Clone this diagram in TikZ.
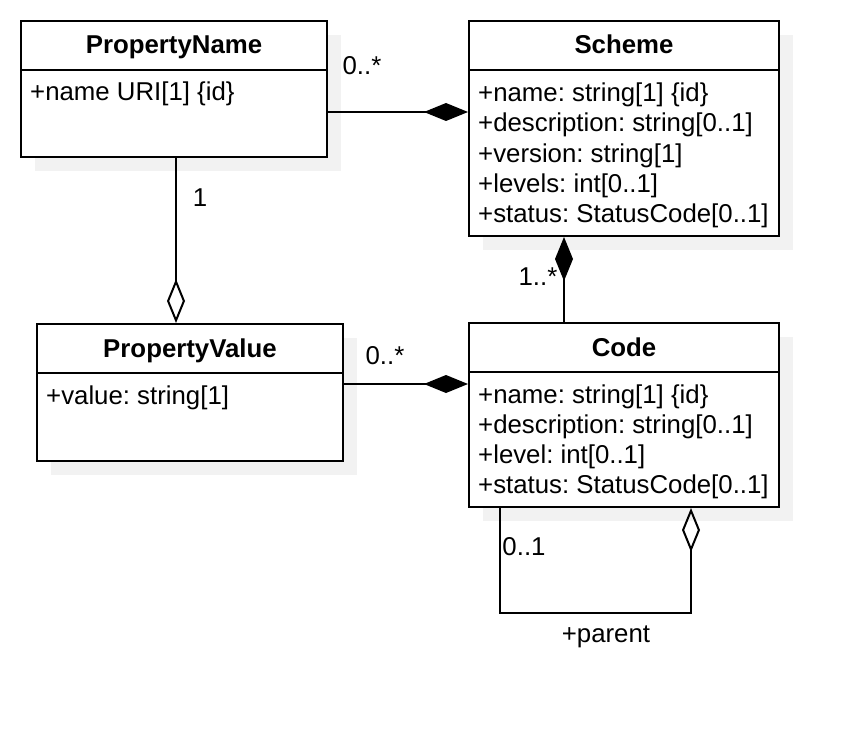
\documentclass[tikz,border=0pt]{standalone}
\usepackage{fontspec}
\setmainfont{Liberation Sans}
\usetikzlibrary{arrows.meta,shadows}
\frenchspacing

\begin{document}
\begin{tikzpicture}[
  x=1pt, y=-1pt,
  classbox/.style={rectangle, draw, fill=white, line width=2pt, anchor=north west, inner sep=0pt,
    general shadow={fill=black!5, shadow xshift=14pt, shadow yshift=-14pt}},
  classname/.style={anchor=base, font=\fontsize{25.8}{30}\selectfont\bfseries},
  attrs/.style={anchor=base west, align=left, inner sep=0pt, font=\fontsize{25.8}{30}\selectfont},
  mult/.style={inner sep=0pt, font=\fontsize{25.8}{30}\selectfont},
  conn/.style={line width=2pt},
  composite/.style={conn, -{Diamond[length=44pt,width=18pt,fill=black]}},
  shared/.style={conn, -{Diamond[open,length=44pt,width=18pt]}}
]
\useasboundingbox (0,0) rectangle (858,730);

% classes
\node[classbox, minimum width=306pt, minimum height=136pt] (pname) at (20,20) {};
\node[classbox, minimum width=310pt, minimum height=215pt] (scheme) at (468,20) {};
\node[classbox, minimum width=306pt, minimum height=137pt] (pvalue) at (36,323) {};
\node[classbox, minimum width=310pt, minimum height=184pt] (code) at (468,322) {};

\node[classname] (pnametitle) at ([yshift=-34pt]pname.north) {PropertyName};
\node[classname] (schemetitle) at ([yshift=-34pt]scheme.north) {Scheme};
\node[classname] (pvaluetitle) at ([yshift=-34pt]pvalue.north) {PropertyValue};
\node[classname] (codetitle) at ([yshift=-34pt]code.north) {Code};

\draw[conn] ([yshift=-50pt]pname.north west) -- ([yshift=-50pt]pname.north east);
\draw[conn] ([yshift=-50pt]scheme.north west) -- ([yshift=-50pt]scheme.north east);
\draw[conn] ([yshift=-50pt]pvalue.north west) -- ([yshift=-50pt]pvalue.north east);
\draw[conn] ([yshift=-50pt]code.north west) -- ([yshift=-50pt]code.north east);

% attribute lists (anchored at the baseline of their last line)
\node[attrs] (pnameattrs) at ([xshift=10pt,yshift=-81pt]pname.north west) {+name URI[1] \{id\}};
\node[attrs] (schemeattrs) at ([xshift=10pt,yshift=-202pt]scheme.north west)
  {+name: string[1] \{id\}\\+description: string[0..1]\\+version: string[1]\\+levels: int[0..1]\\+status: StatusCode[0..1]};
\node[attrs] (pvalueattrs) at ([xshift=10pt,yshift=-81pt]pvalue.north west) {+value: string[1]};
\node[attrs] (codeattrs) at ([xshift=10pt,yshift=-171pt]code.north west)
  {+name: string[1] \{id\}\\+description: string[0..1]\\+level: int[0..1]\\+status: StatusCode[0..1]};

% associations
\coordinate (pnameout) at ([yshift=-92pt]pname.north east);
\coordinate (pnamedown) at ([xshift=156pt]pname.south west);
\coordinate (pvalueout) at ([yshift=-61pt]pvalue.north east);
\coordinate (codeup) at ([xshift=96pt]code.north west);
\coordinate (childend) at ([xshift=32pt]code.south west);
\coordinate (parentend) at ([xshift=223pt]code.south west);

\draw[composite] (pnameout) -- (pnameout -| scheme.west);
\draw[shared] (pnamedown) -- (pnamedown |- pvalue.north);
\draw[composite] (codeup) -- (codeup |- scheme.south);
\draw[composite] (pvalueout) -- (pvalueout -| code.west);
\draw[shared] (childend) -- ++(0,105) -| (parentend);

\node[mult] (m1) at (362,66) {0..*};
\node[mult] (m2) at (200,198) {1};
\node[mult] (m3) at (538,277) {1..*};
\node[mult] (m4) at (385,356) {0..*};
\node[mult] (m5) at (524,547) {0..1};
\node[mult] (parentrole) at (606,637) {+parent};
\end{tikzpicture}
\end{document}
